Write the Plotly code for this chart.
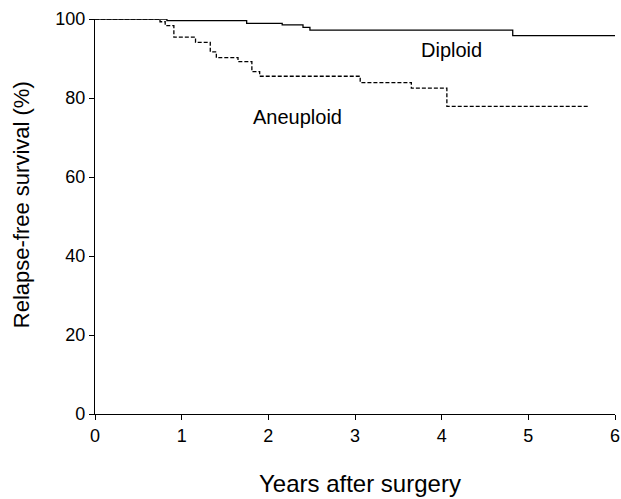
import plotly.graph_objects as go

# Kaplan-Meier step data (time in years, survival %)
diploid_t = [0, 0.83, 1.75, 2.16, 2.40, 2.48, 4.82, 6.0]
diploid_s = [100, 99.6, 98.9, 98.5, 97.9, 97.2, 95.8, 95.8]

aneuploid_t = [0, 0.75, 0.81, 0.91, 1.16, 1.33, 1.40, 1.65, 1.81, 1.90, 3.06, 3.65, 4.06, 5.69]
aneuploid_s = [100, 99.3, 98.3, 95.4, 94.1, 91.7, 90.2, 89.2, 86.7, 85.5, 83.9, 82.5, 77.9, 77.9]

x_ticks = [0, 1, 2, 3, 4, 5, 6]
y_ticks = [0, 20, 40, 60, 80, 100]

FONT = "Liberation Sans, Arial, sans-serif"

fig = go.Figure()
fig.add_trace(go.Scatter(x=diploid_t, y=diploid_s, mode="lines", line_shape="hv",
                         line=dict(color="black", width=1.3), cliponaxis=False, showlegend=False,
                         hoverinfo="skip"))
fig.add_trace(go.Scatter(x=aneuploid_t, y=aneuploid_s, mode="lines", line_shape="hv",
                         line=dict(color="black", width=1.3, dash="4px,2px"), cliponaxis=False,
                         showlegend=False, hoverinfo="skip"))

fig.add_annotation(x=4.11, y=92.2, text="Diploid", showarrow=False,
                   font=dict(family=FONT, size=20, color="black"))
fig.add_annotation(x=2.34, y=75.3, text="Aneuploid", showarrow=False,
                   font=dict(family=FONT, size=20, color="black"))

# Axis titles placed as paper annotations
fig.add_annotation(xref="paper", yref="paper", x=0.509, y=-0.176, text="Years after surgery",
                   showarrow=False, xanchor="center", yanchor="middle",
                   font=dict(family=FONT, size=24, color="black"))
fig.add_annotation(xref="paper", yref="paper", x=-0.142, y=0.529, text="Relapse-free survival (%)",
                   showarrow=False, textangle=-90, xanchor="center", yanchor="middle",
                   font=dict(family=FONT, size=22, color="black"))

fig.update_layout(
    width=621, height=499,
    margin=dict(l=95, r=6, t=19, b=85),
    plot_bgcolor="white", paper_bgcolor="white",
    font=dict(family=FONT, size=18, color="black"),
)
fig.update_xaxes(range=[0, 6], tickvals=x_ticks, showgrid=False, zeroline=False,
                 showline=True, linecolor="black", linewidth=1.3, automargin=False,
                 ticks="outside", ticklen=5, tickwidth=1.3, tickcolor="black",
                 tickfont=dict(size=18))
fig.update_yaxes(range=[0, 100], tickvals=y_ticks, showgrid=False, zeroline=False,
                 showline=True, linecolor="black", linewidth=1.3, automargin=False,
                 ticks="outside", ticklen=5, tickwidth=1.3, tickcolor="black",
                 tickfont=dict(size=18))

fig.write_html(
    "out.html",
    config={"displayModeBar": False},
    post_script="document.body.style.margin='0';document.body.style.overflow='hidden';",
)
